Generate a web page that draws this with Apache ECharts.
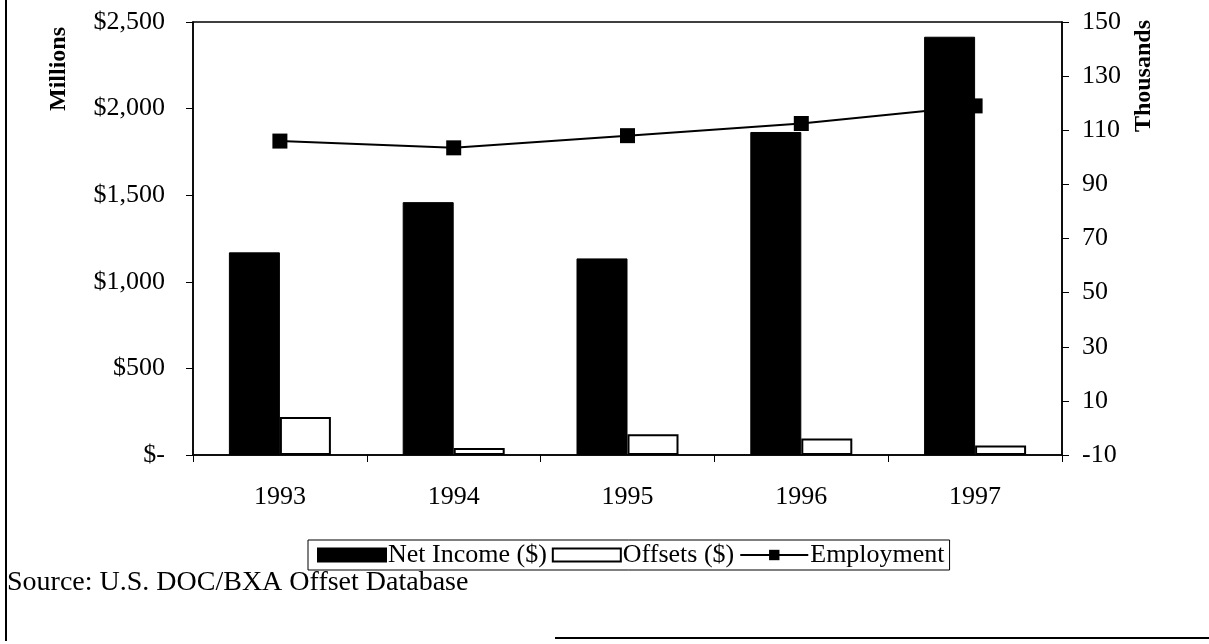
<!DOCTYPE html>
<html>
<head>
<meta charset="utf-8">
<script src="https://cdn.jsdelivr.net/npm/echarts@6/dist/echarts.min.js"></script>
<style>
  html, body { margin: 0; padding: 0; background: #fff; }
  #chart { width: 1209px; height: 644px; }
</style>
</head>
<body>
<div id="chart"></div>
<script>
// data
const years = ['1993', '1994', '1995', '1996', '1997'];
const netIncome = [1170, 1460, 1135, 1865, 2415];   // $ millions
const offsets = [220, 40, 120, 95, 55];             // $ millions
const employment = [106, 103.5, 108, 112.5, 119];   // thousands
const rightTicks = [-10, 10, 30, 50, 70, 90, 110, 130, 150];

const serif = 'Liberation Serif';
const chart = echarts.init(document.getElementById('chart'));

function money(v) {
  if (v === 0) return '$-';
  return '$' + v.toLocaleString('en-US');
}

const option = {
  backgroundColor: '#fff',
  animation: false,
  textStyle: { fontFamily: serif, color: '#000' },
  title: {
    text: 'Source: U.S. DOC/BXA Offset Database',
    left: 7,
    top: 569,
    padding: 0,
    textStyle: { fontFamily: serif, fontWeight: 'normal', fontSize: 28, color: '#000' }
  },
  grid: {
    left: 193, right: 147, top: 22, bottom: 189,
    show: true, borderColor: '#000', borderWidth: 1.5, backgroundColor: 'transparent'
  },
  legend: {
    left: 308,
    top: 540,
    orient: 'horizontal',
    borderColor: '#000',
    borderWidth: 1,
    borderRadius: 0,
    padding: [2, 5, 2, 9],
    itemGap: 5,
    itemWidth: 68,
    itemHeight: 13,
    textStyle: { fontFamily: serif, fontSize: 26, color: '#000', padding: [0, 0, 0, -3] },
    data: [
      { name: 'Net Income ($)', icon: 'rect' },
      { name: 'Offsets ($)', icon: 'rect' },
      { name: 'Employment' }
    ]
  },
  xAxis: {
    type: 'category',
    data: years,
    axisLine: { lineStyle: { color: '#000', width: 1.5 } },
    axisTick: { show: true, length: 7, lineStyle: { color: '#000' } },
    axisLabel: { margin: 29, fontFamily: serif, fontSize: 26, color: '#000' }
  },
  yAxis: [
    {
      type: 'value',
      min: 0, max: 2500, interval: 500,
      splitLine: { show: false },
      axisLine: { show: true, lineStyle: { color: '#000', width: 1.5 } },
      axisTick: { show: true, length: 7, lineStyle: { color: '#000' } },
      axisLabel: { margin: 28, fontFamily: serif, fontSize: 26, color: '#000', formatter: money }
    },
    {
      type: 'value',
      position: 'right',
      min: -10, max: 150,
      splitLine: { show: false },
      axisLine: { show: true, lineStyle: { color: '#000', width: 1.5 } },
      axisTick: { show: true, length: 7, lineStyle: { color: '#000' }, customValues: rightTicks },
      axisLabel: { margin: 20, fontFamily: serif, fontSize: 26, color: '#000', customValues: rightTicks }
    }
  ],
  series: [
    {
      name: 'Net Income ($)',
      type: 'bar',
      data: netIncome,
      barWidth: 51,
      barGap: '0%',
      z: 3,
      itemStyle: { color: '#000', borderColor: '#000', borderWidth: 1 }
    },
    {
      name: 'Offsets ($)',
      type: 'bar',
      data: offsets,
      barWidth: 51,
      z: 3,
      itemStyle: { color: '#fff', borderColor: '#000', borderWidth: 2 }
    },
    {
      name: 'Employment',
      type: 'line',
      yAxisIndex: 1,
      data: employment,
      z: 1,
      symbol: 'rect',
      symbolSize: 15,
      lineStyle: { color: '#000', width: 2 },
      itemStyle: { color: '#000' }
    }
  ],
  graphic: [
    // rotated axis names
    {
      type: 'text', left: 47, top: 27, rotation: Math.PI / 2,
      style: { text: 'Millions', fontFamily: serif, fontWeight: 'bold', fontSize: 24, fill: '#000' }
    },
    {
      type: 'text', left: 1132, top: 20, rotation: Math.PI / 2,
      style: { text: 'Thousands', fontFamily: serif, fontWeight: 'bold', fontSize: 24, fill: '#000' }
    },
    // frame around the figure
    { type: 'line', shape: { x1: 6, y1: 0, x2: 6, y2: 641 }, style: { stroke: '#000', lineWidth: 2 } },
    { type: 'line', shape: { x1: 555, y1: 638, x2: 1209, y2: 638 }, style: { stroke: '#000', lineWidth: 2 } }
  ]
};

chart.setOption(option);
</script>
</body>
</html>
